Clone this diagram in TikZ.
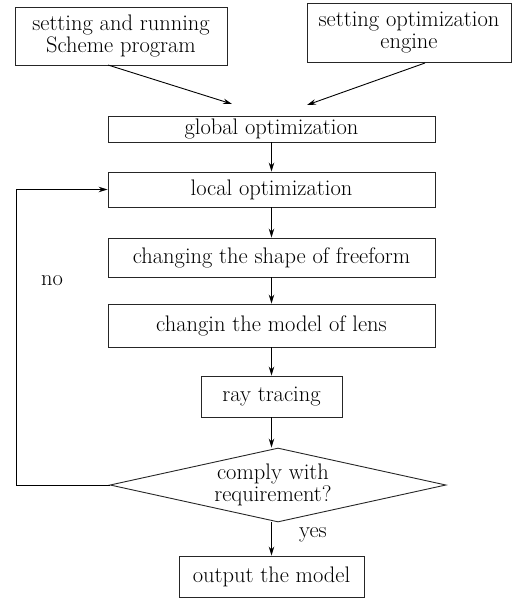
\documentclass[tikz,border=0pt]{standalone}
\usetikzlibrary{shapes.geometric,arrows.meta}
\begin{document}
\begin{tikzpicture}[x=1pt,y=-1pt,
  box/.style={draw=black!85,line width=0.9pt,inner sep=0pt,align=center,font=\fontsize{22.5}{22}\selectfont},
  arr/.style={draw=black,line width=0.9pt,-{Stealth[length=9pt,width=5.5pt]}},
  lbl/.style={font=\fontsize{22.5}{22}\selectfont}]
\useasboundingbox (0,0) rectangle (524,600);
\node[box,minimum width=212pt,minimum height=58pt] (a) at (121,36) {setting and running\\Scheme program};
\node[box,minimum width=204pt,minimum height=59pt] (b) at (409,33) {setting optimization\\engine};
\node[box,minimum width=327pt,minimum height=26pt] (g) at (271.5,129) {global optimization};
\node[box,minimum width=327pt,minimum height=35pt] (l) at (271.5,189.5) {local optimization};
\node[box,minimum width=327pt,minimum height=39pt] (c) at (271.5,257.5) {changing the shape of freeform};
\node[box,minimum width=327pt,minimum height=43pt] (m) at (271.5,325.5) {changin the model of lens};
\node[box,minimum width=141pt,minimum height=41pt] (r) at (271.5,396.5) {ray tracing};
\node[box,diamond,aspect=4.54,minimum width=336pt,minimum height=74pt,inner sep=0pt] (d) at (278,485) {};
\node[lbl,align=center] (dt) at (273,485) {comply with\\requirement?};
\node[box,minimum width=185pt,minimum height=41pt] (o) at (271.5,576.5) {output the model};
\coordinate (a1) at (108,65);
\coordinate (b1) at (425,63);
\coordinate (ga) at (232,104);
\coordinate (gb) at (307,105);
\draw[arr] (a1) -- (ga);
\draw[arr] (b1) -- (gb);
\draw[arr] (g.south) -- (l.north);
\draw[arr] (l.south) -- (c.north);
\draw[arr] (c.south) -- (m.north);
\draw[arr] (m.south) -- (r.north);
\draw[arr] (r.south) -- (d.north -| r.south);
\draw[arr] (d.south -| o.north) -- (o.north);
\coordinate (lp) at (16,485);
\draw[arr] (d.west) -- (lp) |- (l.west);
\node[lbl] (no) at (52,281) {no};
\node[lbl] (yes) at (313,535) {yes};
\end{tikzpicture}
\end{document}
